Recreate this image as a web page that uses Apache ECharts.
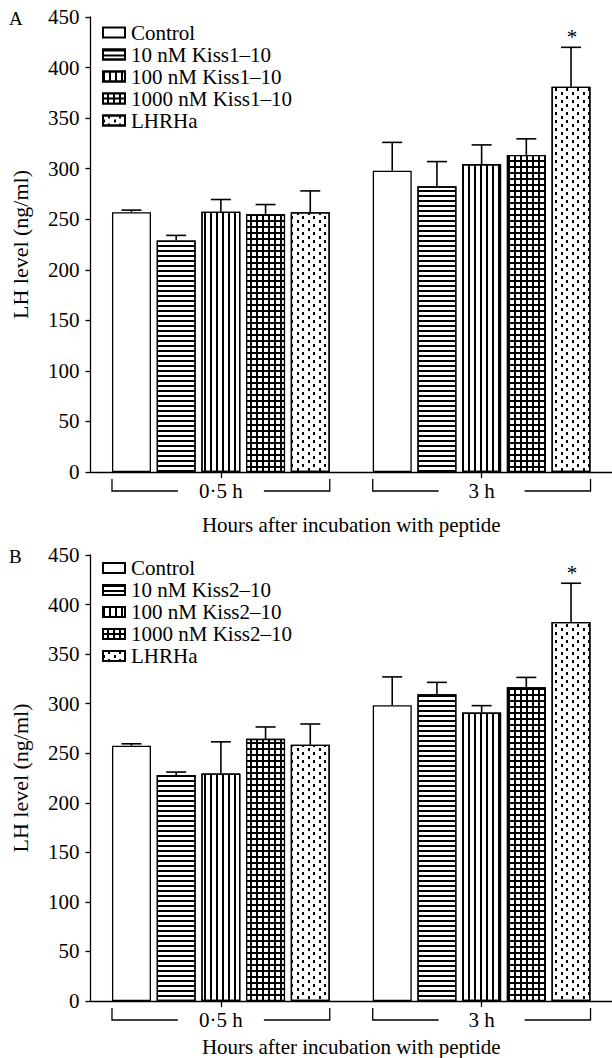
<!DOCTYPE html>
<html>
<head>
<meta charset="utf-8">
<script src="https://cdn.jsdelivr.net/npm/echarts@6/dist/echarts.min.js"></script>
<style>
html,body{margin:0;padding:0;background:#fff;}
#c{width:612px;height:1058px;}
</style>
</head>
<body>
<div id="c"></div>
<script>
// ---- data ----
const categories = ['0·5 h', '3 h'];
const namesA = ['Control', '10 nM Kiss1–10', '100 nM Kiss1–10', '1000 nM Kiss1–10', 'LHRHa'];
const namesB = ['Control', '10 nM Kiss2–10', '100 nM Kiss2–10', '1000 nM Kiss2–10', 'LHRHa'];
// means per treatment: [0·5 h, 3 h]
const meanA = [[257, 298], [229, 282.5], [257.5, 304.5], [255, 313.5], [257, 381]];
const errA  = [[2, 28], [5, 24.5], [12, 19], [9.5, 16], [21, 39]];
const sigA  = [[0, 0], [0, 0], [0, 0], [0, 0], [0, 1]];
const meanB = [[257.5, 298.5], [228, 309.5], [229.5, 291], [264.5, 316.5], [258.5, 382.5]];
const errB  = [[2, 28.5], [3, 12], [32, 7], [12, 10], [21, 39]];
const sigB  = [[0, 0], [0, 0], [0, 0], [0, 0], [0, 1]];
const yTicks = [0, 450, 50]; // min, max, interval
const panelLetters = ['A', 'B'];
const xTitle = 'Hours after incubation with peptide';
const yTitle = 'LH level (ng/ml)';

// ---- styles ----
const FONT = '"Liberation Serif", "Times New Roman", serif';
const BAR_W = 39;
const GAP_PX = 5.7;
const fills = ['#fff', '#fff', '#fff', '#000', '#fff'];
const D = {symbol: 'rect', symbolSize: 1, symbolKeepAspect: false};
const decals = [
  null,
  Object.assign({color: '#000', dashArrayX: [4, 0], dashArrayY: [1.1, 2.9]}, D),
  Object.assign({color: '#000', dashArrayX: [1.1, 3.9], dashArrayY: [4, 0]}, D),
  Object.assign({color: '#fff', dashArrayX: [3.4, 1.1], dashArrayY: [3.3, 1.1]}, D),
  Object.assign({color: '#000', dashArrayX: [[1.2, 8.8], [0, 5, 1.2, 3.8]], dashArrayY: [3, 0.4]}, D)
];
const grids = [
  {left: 90.5, right: -4, top: 17, height: 455},
  {left: 90.5, right: -4, top: 555, height: 449.3}
];
const nameGaps = [42, 35];
const legendTops = [22, 557.5];

const txt = {fontFamily: FONT, color: '#000', fontSize: 21};

const series = [];
const panels = [[namesA, meanA, errA, sigA], [namesB, meanB, errB, sigB]];
panels.forEach(([names, mean, err, sig], p) => {
  names.forEach((nm, k) => {
    const itemStyle = {color: fills[k], borderColor: '#000', borderWidth: 1.3};
    if (decals[k]) itemStyle.decal = decals[k];
    series.push({
      type: 'bar', name: nm, xAxisIndex: p, yAxisIndex: p,
      barWidth: BAR_W, barGap: (GAP_PX / BAR_W * 100).toFixed(1) + '%',
      itemStyle, emphasis: {disabled: true},
      data: mean[k]
    });
  });
  // error bars
  const ebData = [];
  names.forEach((nm, k) => {
    categories.forEach((c, ci) => ebData.push([ci, mean[k][ci], err[k][ci], k, sig[k][ci]]));
  });
  series.push({
    type: 'custom', xAxisIndex: p, yAxisIndex: p, z: 5, silent: true,
    data: ebData,
    renderItem(params, api) {
      const ci = api.value(0), m = api.value(1), e = api.value(2), k = api.value(3), s = api.value(4);
      const b = api.coord([ci, m]);
      const t = api.coord([ci, m + e]);
      const x = b[0] + (k - 2) * (BAR_W + GAP_PX);
      const ls = {stroke: '#000', lineWidth: 1.6};
      const ch = [
        {type: 'line', shape: {x1: x, y1: b[1], x2: x, y2: t[1]}, style: ls},
        {type: 'line', shape: {x1: x - 10, y1: t[1], x2: x + 10, y2: t[1]}, style: ls}
      ];
      if (s) ch.push({type: 'text', style: {text: '*', x: x + 1, y: t[1] - 10, align: 'center', verticalAlign: 'middle', font: '21px ' + FONT, fill: '#000'}});
      return {type: 'group', children: ch};
    }
  });
  // group brackets under the axis
  series.push({
    type: 'custom', xAxisIndex: p, yAxisIndex: p, silent: true, clip: false,
    data: categories.map((c, ci) => [ci]),
    renderItem(params, api) {
      const c = api.coord([api.value(0), 0]);
      const hg = 2.5 * BAR_W + 2 * GAP_PX;
      const y0 = c[1] + 7, y1 = c[1] + 19;
      const ls = {stroke: '#000', lineWidth: 1.3, fill: null};
      return {type: 'group', children: [
        {type: 'polyline', shape: {points: [[c[0] - hg, y0], [c[0] - hg, y1], [c[0] - 43, y1]]}, style: ls},
        {type: 'polyline', shape: {points: [[c[0] + 43, y1], [c[0] + hg, y1], [c[0] + hg, y0]]}, style: ls}
      ]};
    }
  });
});

const option = {
  animation: false,
  backgroundColor: '#fff',
  title: panelLetters.map((L, i) => ({text: L, left: 9, top: grids[i].top - 8, padding: 0, textStyle: {fontFamily: FONT, fontSize: 19, fontWeight: 'normal', color: '#000'}})),
  legend: [namesA, namesB].map((names, i) => ({
    data: names, orient: 'vertical', left: 102, top: legendTops[i], padding: 0,
    icon: 'rect', itemWidth: 22, itemHeight: 10, itemGap: 1, selectedMode: false,
    textStyle: Object.assign({}, txt, {padding: [0, 0, 0, 1]})
  })),
  grid: grids,
  xAxis: grids.map((g, i) => ({
    type: 'category', gridIndex: i, data: categories,
    axisLine: {show: true, lineStyle: {color: '#000', width: 1.3}},
    axisTick: {show: true, alignWithLabel: true, length: 6, lineStyle: {color: '#000', width: 1.3}},
    axisLabel: Object.assign({margin: 8}, txt),
    name: xTitle, nameLocation: 'middle', nameGap: nameGaps[i], nameTextStyle: txt
  })),
  yAxis: grids.map((g, i) => ({
    type: 'value', gridIndex: i, min: yTicks[0], max: yTicks[1], interval: yTicks[2],
    splitLine: {show: false},
    axisLine: {show: true, lineStyle: {color: '#000', width: 1.3}},
    axisTick: {show: true, length: 5, lineStyle: {color: '#000', width: 1.3}},
    axisLabel: Object.assign({margin: 11}, txt),
    name: yTitle, nameLocation: 'middle', nameGap: 59, nameTextStyle: Object.assign({}, txt, {fontSize: 22})
  })),
  series
};

const chart = echarts.init(document.getElementById('c'), null, {renderer: 'svg'});
chart.setOption(option);
</script>
</body>
</html>
